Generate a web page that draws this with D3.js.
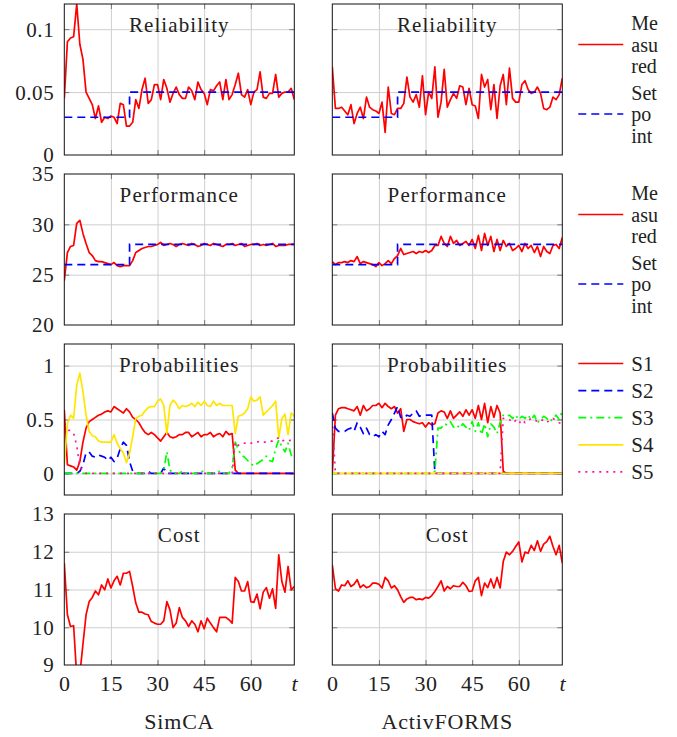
<!DOCTYPE html>
<html>
<head>
<meta charset="utf-8">
<script src="https://cdn.jsdelivr.net/npm/d3@7"></script>
<style>
  body { margin: 0; background: #fff; }
  svg text { font-family: "Liberation Serif", "DejaVu Serif", serif; fill: #222; }
</style>
</head>
<body>
<div id="main"></div>
<script>
///////////
// DATA  //
///////////

const xTicks = [0, 15, 30, 45, 60, 74]
const xTickLabels = ["0", "15", "30", "45", "60", "t"]
const columnNames = ["SimCA", "ActivFORMS"]

const relTicks = [0, 0.05, 0.1]
const perfTicks = [20, 25, 30, 35]
const probTicks = [0, 0.5, 1]
const costTicks = [9, 10, 11, 12, 13]

const goalLegend = [["Me", "asu", "red"], ["Set", "po", "int"]]
const probLegend = ["S1", "S2", "S3", "S4", "S5"]

// setpoint steps (time, value), step after
const setpointT = [0, 21, 74]
const relSetpoint = [0.03, 0.05, 0.05]
const perfSetpoint = [26, 28, 28]

// reliability, measured
const relSim = [0.045,0.090,0.093,0.094,0.120,0.088,0.076,0.050,0.045,0.040,
  0.029,0.039,0.026,0.030,0.029,0.031,0.030,0.025,0.041,0.040,
  0.023,0.023,0.026,0.044,0.037,0.052,0.061,0.041,0.044,0.056,
  0.056,0.044,0.060,0.053,0.042,0.049,0.054,0.048,0.045,0.045,
  0.054,0.051,0.044,0.058,0.052,0.049,0.040,0.052,0.051,0.055,
  0.058,0.044,0.060,0.044,0.048,0.056,0.065,0.048,0.046,0.052,
  0.040,0.050,0.052,0.066,0.046,0.045,0.049,0.049,0.064,0.046,
  0.049,0.050,0.050,0.053,0.044]
const relAct = [0.070,0.037,0.037,0.038,0.035,0.032,0.040,0.025,0.033,0.038,
  0.029,0.046,0.038,0.036,0.035,0.033,0.042,0.018,0.054,0.033,
  0.032,0.037,0.037,0.041,0.062,0.046,0.042,0.048,0.038,0.063,
  0.032,0.050,0.045,0.070,0.030,0.042,0.068,0.038,0.044,0.049,
  0.045,0.055,0.054,0.040,0.053,0.040,0.039,0.029,0.064,0.054,
  0.060,0.036,0.056,0.029,0.055,0.064,0.040,0.069,0.045,0.042,
  0.042,0.056,0.059,0.052,0.049,0.050,0.054,0.049,0.037,0.036,
  0.038,0.046,0.044,0.048,0.061]

// performance, measured
const perfSim = [24.4,27.2,27.8,27.9,30.1,30.4,29.1,28.1,27.2,26.9,
  26.4,26.3,26.3,26.2,26.1,26.0,26.2,25.9,25.8,25.9,
  25.9,25.9,26.4,27.2,27.4,27.6,27.7,27.8,27.8,27.9,
  28.0,28.2,27.9,28.0,28.1,28.0,27.8,28.0,28.1,28.0,
  27.9,28.1,28.0,27.8,27.9,28.1,28.0,27.9,28.1,28.0,
  27.9,27.8,28.0,28.0,28.1,27.9,28.0,28.1,27.8,27.9,
  28.0,28.0,28.1,27.9,28.0,27.9,28.0,28.1,27.8,27.9,
  27.9,27.9,28.0,28.0,28.0]
const perfAct = [26.3,26.0,26.2,26.2,26.3,26.2,26.4,26.3,26.8,26.1,
  26.3,26.2,26.1,26.0,25.8,26.2,25.9,26.1,26.4,26.1,
  26.6,26.9,27.6,27.0,27.1,27.2,27.3,27.1,27.3,27.2,
  27.4,27.2,27.4,27.9,27.9,28.8,28.1,27.8,28.8,28.1,
  28.4,27.9,28.1,28.3,27.9,28.5,27.6,28.9,27.4,29.1,
  27.9,28.8,27.3,28.5,27.4,28.4,27.8,28.1,27.4,27.6,
  27.9,27.3,28.1,27.6,27.9,27.2,27.8,26.8,27.8,27.3,
  27.1,27.9,28.0,27.6,28.7]

// probabilities, SimCA
const probSimS1 = [0.59,0.08,0.07,0.06,0.03,0.11,0.29,0.42,0.48,0.50,
  0.52,0.54,0.55,0.57,0.58,0.57,0.62,0.60,0.58,0.56,
  0.60,0.57,0.52,0.50,0.47,0.42,0.38,0.36,0.38,0.36,
  0.33,0.30,0.34,0.38,0.34,0.33,0.34,0.36,0.36,0.38,
  0.38,0.34,0.36,0.38,0.34,0.36,0.36,0.38,0.34,0.36,
  0.37,0.34,0.39,0.36,0.37,0.03,0,0,0,0,
  0,0,0,0,0,0,0,0,0,0,
  0,0,0,0,0]
const probSimS2 = [0,0,0,0,0,0.02,0.08,0.19,0.20,0.16,
  0.15,0.17,0.16,0.15,0.12,0.15,0.11,0.14,0.23,0.29,
  0.26,0.11,0.02,0,0,0,0,0.02,0,0,
  0,0,0.05,0,0,0,0,0,0,0,
  0,0,0,0,0,0,0,0,0,0,
  0,0,0,0,0,0,0,0,0,0,
  0,0,0,0,0,0,0,0,0,0,
  0,0,0,0,0]
const probSimS3 = [0,0,0,0,0,0,0,0,0,0,
  0,0,0,0,0,0,0,0,0,0,
  0,0,0,0,0,0,0,0,0,0,
  0,0,0.03,0.20,0.03,0,0,0,0.02,0,
  0,0,0,0,0.03,0,0,0,0,0,
  0.02,0,0,0,0.05,0.29,0.22,0.17,0.15,0.12,
  0.09,0.07,0.09,0.11,0.13,0.16,0.12,0.11,0.23,0.31,
  0.25,0.20,0.28,0.17,0.16]
const probSimS4 = [0.08,0.46,0.54,0.51,0.82,0.93,0.76,0.54,0.39,0.35,
  0.34,0.30,0.29,0.29,0.29,0.29,0.36,0.28,0.23,0.19,
  0.10,0.19,0.34,0.51,0.53,0.54,0.58,0.61,0.62,0.62,
  0.67,0.69,0.63,0.37,0.63,0.68,0.65,0.60,0.63,0.62,
  0.63,0.65,0.62,0.66,0.63,0.67,0.63,0.62,0.67,0.63,
  0.65,0.63,0.63,0.63,0.63,0.37,0.53,0.54,0.56,0.60,
  0.71,0.67,0.68,0.71,0.54,0.57,0.60,0.63,0.67,0.33,
  0.51,0.55,0.36,0.56,0.53]
const probSimS5 = [0.45,0.40,0.40,0.37,0.26,0.06,0.02,0,0,0,
  0,0,0,0,0,0,0,0,0,0,
  0,0,0,0,0,0,0,0,0,0,
  0,0,0,0,0,0,0,0,0,0,
  0,0,0,0,0,0,0,0,0,0,
  0,0,0,0,0,0.29,0.26,0.28,0.28,0.29,
  0.28,0.29,0.29,0.30,0.29,0.29,0.30,0.30,0.32,0.33,
  0.30,0.31,0.30,0.31,0.31]

// probabilities, ActivFORMS
const probActS1 = [0,0.54,0.60,0.61,0.61,0.60,0.59,0.58,0.62,0.54,
  0.63,0.58,0.60,0.63,0.63,0.65,0.61,0.65,0.62,0.60,
  0.62,0.56,0.60,0.39,0.50,0.50,0.48,0.47,0.46,0.47,
  0.43,0.47,0.45,0.46,0.56,0.58,0.57,0.51,0.58,0.51,
  0.54,0.57,0.53,0.59,0.54,0.59,0.51,0.63,0.50,0.65,
  0.47,0.62,0.52,0.63,0.56,0.02,0,0,0,0,
  0,0,0,0,0,0,0,0,0,0,
  0,0,0,0,0]
const probActS2 = [0.56,0.42,0.39,0.39,0.39,0.41,0.42,0.39,0.47,0.43,
  0.37,0.42,0.36,0.34,0.36,0.34,0.39,0.36,0.45,0.50,
  0.56,0.62,0.52,0.51,0.54,0.53,0.56,0.58,0.53,0.54,
  0.54,0.54,0.54,0.01,0,0,0,0,0,0,
  0,0,0,0,0,0,0,0,0,0,
  0,0,0,0,0,0,0,0,0,0,
  0,0,0,0,0,0,0,0,0,0,
  0,0,0,0,0]
const probActS3 = [0,0,0,0,0,0,0,0,0,0,
  0,0,0,0,0,0,0,0,0,0,
  0,0,0,0,0,0,0,0,0,0,
  0,0,0,0.02,0.42,0.42,0.46,0.45,0.48,0.43,
  0.45,0.42,0.46,0.43,0.40,0.48,0.39,0.47,0.36,0.46,
  0.34,0.46,0.43,0.37,0.47,0.54,0.53,0.54,0.51,0.54,
  0.50,0.53,0.51,0.54,0.50,0.54,0.47,0.50,0.53,0.51,
  0.48,0.51,0.54,0.50,0.58]
const probActS4 = [0,0,0,0,0,0,0,0,0,0,
  0,0,0,0,0,0,0,0,0,0,
  0,0,0,0,0,0,0,0,0,0,
  0,0,0,0,0,0,0,0,0,0,
  0,0,0,0,0,0,0,0,0,0,
  0,0,0,0,0,0,0,0,0,0,
  0,0,0,0,0,0,0,0,0,0,
  0,0,0,0,0]
const probActS5 = [0.50,0,0,0,0,0,0,0,0,0,
  0,0,0,0,0,0,0,0,0,0,
  0,0,0,0,0,0,0,0,0,0,
  0,0,0,0,0,0,0,0,0,0,
  0,0,0,0,0,0,0,0,0,0,
  0,0,0,0,0,0.51,0.50,0.50,0.47,0.49,
  0.46,0.50,0.47,0.49,0.51,0.50,0.48,0.50,0.49,0.47,
  0.50,0.51,0.49,0.47,0.46]

// cost
const costSim = [11.70,10.33,10.02,10.04,8.70,8.75,9.55,10.33,10.68,10.79,
  10.96,10.86,11.12,10.99,11.28,11.04,11.23,11.35,11.12,11.43,
  11.43,11.48,11.08,10.64,10.40,10.40,10.35,10.33,10.15,10.11,
  10.08,10.08,10.17,10.68,10.46,9.99,10.11,10.52,10.26,10.17,
  10.02,10.17,10.08,9.88,10.17,9.96,10.24,10.11,9.99,9.88,
  10.26,10.26,10.26,10.20,10.11,11.32,11.21,10.96,10.96,11.21,
  10.68,10.66,10.88,10.49,10.93,11.05,10.77,11.02,10.50,11.92,
  11.21,10.93,11.61,10.99,11.08]
const costAct = [11.65,11.02,10.96,11.12,11.10,11.23,11.08,11.14,11.26,11.05,
  11.12,11.05,11.08,11.17,11.17,11.14,11.04,11.32,11.23,11.04,
  11.10,10.99,10.81,10.66,10.75,10.79,10.79,10.73,10.75,10.73,
  10.79,10.77,10.84,10.95,11.08,11.23,10.96,11.08,11.02,11.10,
  11.08,11.08,11.19,11.10,10.95,10.96,11.23,11.32,10.84,11.17,
  11.05,11.28,11.04,11.32,11.04,11.74,11.99,11.92,12.01,12.14,
  12.26,11.73,11.99,11.96,12.17,12.03,12.29,12.01,12.20,12.27,
  12.41,12.14,11.92,12.17,11.70]

///////////
// SETUP //
///////////

const width = 677
const height = 737
const FONT = "'Liberation Serif', 'DejaVu Serif', serif"

const colX = [64.3, 332.3]
const rowY = [4, 174, 344, 514]
const plotW = 230
const plotH = 151

// line styles
const red = {color: "#ff0000", dash: null}
const blue = {color: "#0000ff", dash: "8,5"}
const green = {color: "#00ff00", dash: "8,4,2,4"}
const yellow = {color: "#ffe600", dash: null}
const magenta = {color: "#ff10a0", dash: "2,5"}

const rows = [
  {title: "Reliability", domain: [0, 0.12], ticks: relTicks,
    series: [[relSim], [relAct]], step: relSetpoint, styles: [red], legend: "goal"},
  {title: "Performance", domain: [20, 35], ticks: perfTicks,
    series: [[perfSim], [perfAct]], step: perfSetpoint, styles: [red], legend: "goal"},
  {title: "Probabilities", domain: [-0.2, 1.2], ticks: probTicks,
    series: [[probSimS1, probSimS2, probSimS3, probSimS4, probSimS5],
             [probActS1, probActS2, probActS3, probActS4, probActS5]],
    styles: [red, blue, green, yellow, magenta], legend: "prob"},
  {title: "Cost", domain: [9, 13], ticks: costTicks,
    series: [[costSim], [costAct]], styles: [red]}
]

let svg = d3.select("#main").append("svg")
  .attr("width", width)
  .attr("height", height)
  .attr("font-family", FONT)

let x = d3.scaleLinear().domain([0, 74]).range([0, plotW])

function txt(sel, size, spacing) {
  return sel.attr("font-family", FONT)
    .style("font-family", FONT)
    .style("font-size", size + "px")
    .style("letter-spacing", (spacing || 0) + "px")
}

//////////
// DRAW //
//////////

rows.forEach((row, r) => {
  let y = d3.scaleLinear().domain(row.domain).range([plotH, 0])
  let innerY = row.ticks.filter(d => d > row.domain[0] && d < row.domain[1])

  columnNames.forEach((name, c) => {
    let g = svg.append("g").attr("transform", `translate(${colX[c]},${rowY[r]})`)
    let clipId = `clip-${r}-${c}`
    g.append("clipPath").attr("id", clipId)
      .append("rect").attr("width", plotW).attr("height", plotH)

    // grid
    g.append("g")
      .call(d3.axisLeft(y).tickValues(innerY).tickSize(-plotW).tickFormat(""))
      .call(a => a.select(".domain").remove())
      .selectAll("line").attr("stroke", "#cfcfcf")
    g.append("g").attr("transform", `translate(0,${plotH})`)
      .call(d3.axisBottom(x).tickValues(xTicks.slice(1, -1)).tickSize(-plotH).tickFormat(""))
      .call(a => a.select(".domain").remove())
      .selectAll("line").attr("stroke", "#cfcfcf")

    // tick marks inside, all four sides
    const tickLen = 5
    g.append("g").call(d3.axisLeft(y).tickValues(innerY).tickSize(-tickLen).tickFormat(""))
      .call(a => a.select(".domain").remove())
      .selectAll("line").attr("stroke", "#777")
    g.append("g").attr("transform", `translate(${plotW},0)`)
      .call(d3.axisRight(y).tickValues(innerY).tickSize(-tickLen).tickFormat(""))
      .call(a => a.select(".domain").remove())
      .selectAll("line").attr("stroke", "#777")
    g.append("g").attr("transform", `translate(0,${plotH})`)
      .call(d3.axisBottom(x).tickValues(xTicks.slice(1, -1)).tickSize(-tickLen).tickFormat(""))
      .call(a => a.select(".domain").remove())
      .selectAll("line").attr("stroke", "#777")
    g.append("g")
      .call(d3.axisTop(x).tickValues(xTicks.slice(1, -1)).tickSize(-tickLen).tickFormat(""))
      .call(a => a.select(".domain").remove())
      .selectAll("line").attr("stroke", "#777")

    // data
    let plot = g.append("g").attr("clip-path", `url(#${clipId})`)
    let line = d3.line().x((d, i) => x(i)).y(d => y(d))
    row.series[c].forEach((vals, k) => {
      let st = row.styles[k]
      plot.append("path")
        .attr("d", line(vals))
        .attr("fill", "none")
        .attr("stroke", st.color)
        .attr("stroke-width", 1.7)
        .attr("stroke-dasharray", st.dash)
        .attr("stroke-linejoin", "round")
    })
    if (row.step) {
      let stepLine = d3.line()
        .x((d, i) => x(setpointT[i])).y(d => y(d))
        .curve(d3.curveStepAfter)
      plot.append("path")
        .attr("d", stepLine(row.step))
        .attr("fill", "none")
        .attr("stroke", blue.color)
        .attr("stroke-width", 1.7)
        .attr("stroke-dasharray", blue.dash)
    }

    // frame
    g.append("rect").attr("width", plotW).attr("height", plotH)
      .attr("fill", "none").attr("stroke", "#111").attr("stroke-width", 1)

    // title
    g.append("text")
      .attr("x", plotW / 2).attr("y", 28)
      .attr("text-anchor", "middle")
      .call(txt, 21, 1.1)
      .text(row.title)

    // y tick labels, left column only
    if (c === 0) {
      let ax = g.append("g")
        .call(d3.axisLeft(y).tickValues(row.ticks).tickSize(0).tickPadding(10).tickFormat(d => d))
      ax.select(".domain").remove()
      ax.selectAll("text")
        .attr("dy", "0.33em")
        .attr("fill", "#222")
        .call(txt, 21, 0.6)
    }

    // x tick labels, bottom row only
    if (r === rows.length - 1) {
      let ax = g.append("g").attr("transform", `translate(0,${plotH})`)
        .call(d3.axisBottom(x).tickValues(xTicks).tickSize(0)
          .tickFormat((d, i) => xTickLabels[i]))
      ax.select(".domain").remove()
      ax.selectAll("text")
        .attr("y", 26).attr("dy", null)
        .attr("fill", "#222")
        .call(txt, 22, 0.6)
        .style("font-style", (d, i) => xTickLabels[i] === "t" ? "italic" : "normal")
      g.append("text")
        .attr("x", plotW / 2).attr("y", plotH + 64)
        .attr("text-anchor", "middle")
        .call(txt, 22, 0.8)
        .text(name)
    }

    // legends at the right of the right column
    if (c === 1 && row.legend) {
      let lg = g.append("g").attr("transform", `translate(${plotW + 16},0)`)
      if (row.legend === "goal") {
        const mids = [40.5, 110]
        const styles = [red, blue]
        goalLegend.forEach((lines, k) => {
          lg.append("line")
            .attr("x1", 0).attr("x2", 45)
            .attr("y1", mids[k]).attr("y2", mids[k])
            .attr("stroke", styles[k].color).attr("stroke-width", 1.7)
            .attr("stroke-dasharray", styles[k].dash)
          lg.selectAll(null).data(lines).join("text")
            .attr("x", 53)
            .attr("y", (d, i) => mids[k] + (i - 1) * 21.5 + 7)
            .call(txt, 20)
            .text(d => d)
        })
      } else {
        probLegend.forEach((lab, k) => {
          let yy = 19.5 + k * 27.1
          lg.append("line")
            .attr("x1", 0).attr("x2", 45)
            .attr("y1", yy).attr("y2", yy)
            .attr("stroke", row.styles[k].color).attr("stroke-width", 1.7)
            .attr("stroke-dasharray", row.styles[k].dash)
          lg.append("text")
            .attr("x", 53).attr("y", yy + 7.5)
            .call(txt, 21)
            .text(lab)
        })
      }
    }
  })
})
</script>
</body>
</html>
